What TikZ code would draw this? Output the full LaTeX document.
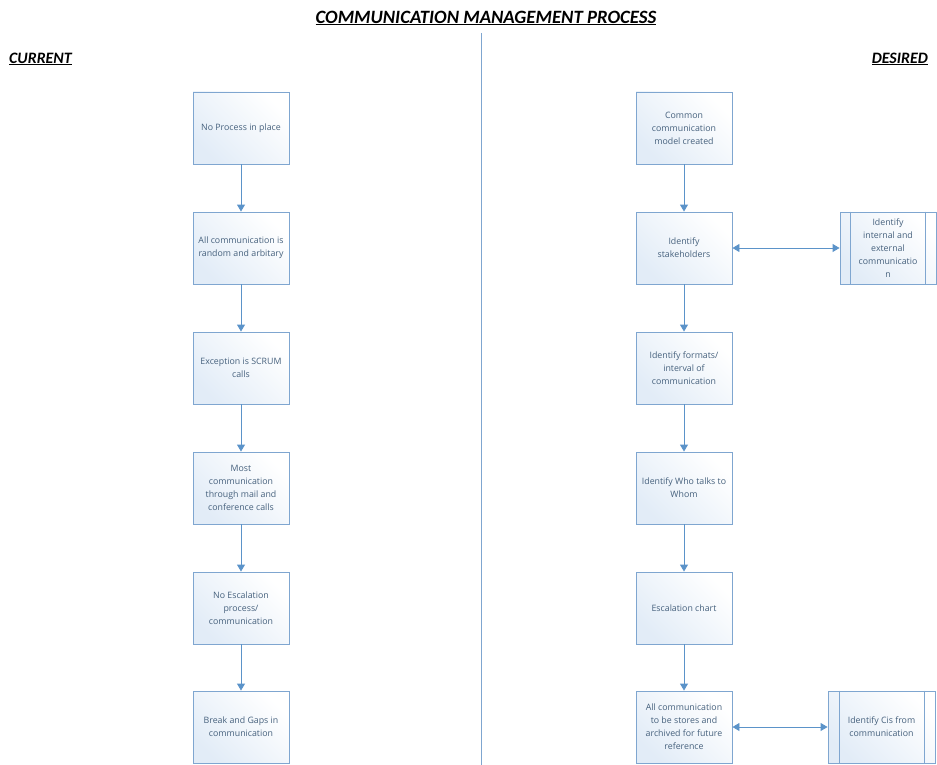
\documentclass[tikz,border=0pt]{standalone}
\usepackage{fontspec}
\setmainfont{Open Sans}
\newfontfamily\headfont{Carlito}
\usetikzlibrary{arrows.meta}
\definecolor{boxline}{HTML}{7FA6D0}
\definecolor{boxtext}{HTML}{46617D}
\definecolor{arrowc}{HTML}{5B93C9}
\definecolor{boxtop}{HTML}{E2ECF7}
\tikzset{
  x=1pt, y=-1pt,
  procbox/.style={draw=boxline, line width=0.9pt, top color=boxtop, bottom color=white,
    shading angle=135, minimum width=96pt, minimum height=72pt, inner sep=0pt,
    align=center, text=boxtext, font=\fontsize{8.8}{13}\selectfont},
  flow/.style={draw=arrowc, line width=0.9pt, -{Triangle[length=7pt,width=8pt]}},
  both/.style={draw=arrowc, line width=0.9pt, {Triangle[length=7pt,width=8pt]}-{Triangle[length=7pt,width=8pt]}},
  heading/.style={font=\headfont\bfseries\itshape\fontsize{15.9}{17}\selectfont, inner sep=0pt},
}
\begin{document}
\begin{tikzpicture}
\useasboundingbox (0,0) rectangle (937,765);
% title and column headings
\node[heading, font=\headfont\bfseries\itshape\fontsize{18.8}{20}\selectfont] (title) at (486,18) {\underline{COMMUNICATION MANAGEMENT PROCESS}};
\node[heading, anchor=west] (cur) at (9,59) {\underline{CURRENT}};
\node[heading, anchor=east] (des) at (928,59) {\underline{DESIRED}};
% divider
\coordinate (dtop) at (481,33);
\coordinate (dbot) at (481,765);
\draw[boxline, line width=0.9pt] (dtop) -- (dbot);
% current process
\node[procbox] (c1) at (241,128) {No Process in place};
\node[procbox] (c2) at (241,248) {All communication is\\random and arbitary};
\node[procbox] (c3) at (241,368) {Exception is SCRUM\\calls};
\node[procbox] (c4) at (241,488) {Most\\communication\\through mail and\\conference calls};
\node[procbox] (c5) at (241,608) {No Escalation\\process/\\communication};
\node[procbox] (c6) at (241,727) {Break and Gaps in\\communication};
\foreach \a/\b in {c1/c2,c2/c3,c3/c4,c4/c5,c5/c6} \draw[flow] (\a) -- (\b);
% desired process
\node[procbox] (d1) at (684,128) {Common\\communication\\model created};
\node[procbox] (d2) at (684,248) {Identify\\stakeholders};
\node[procbox] (d3) at (684,368) {Identify formats/\\interval of\\communication};
\node[procbox] (d4) at (684,488) {Identify Who talks to\\Whom};
\node[procbox] (d5) at (684,608) {Escalation chart};
\node[procbox] (d6) at (684,727) {All communication\\to be stores and\\archived for future\\reference};
\foreach \a/\b in {d1/d2,d2/d3,d3/d4,d4/d5,d5/d6} \draw[flow] (\a) -- (\b);
% predefined sub-processes
\node[procbox] (s1) at (888,248) {Identify\\internal and\\external\\communicatio\\n};
\draw[boxline, line width=0.9pt] ([xshift=11pt]s1.north west) -- ([xshift=11pt]s1.south west)
  ([xshift=-11pt]s1.north east) -- ([xshift=-11pt]s1.south east);
\node[procbox, minimum width=107pt] (s2) at (881.5,727) {Identify Cis from\\communication};
\draw[boxline, line width=0.9pt] ([xshift=12pt]s2.north west) -- ([xshift=12pt]s2.south west)
  ([xshift=-11pt]s2.north east) -- ([xshift=-11pt]s2.south east);
\draw[both] (d2) -- (s1);
\draw[both] (d6) -- (s2);
\end{tikzpicture}
\end{document}
